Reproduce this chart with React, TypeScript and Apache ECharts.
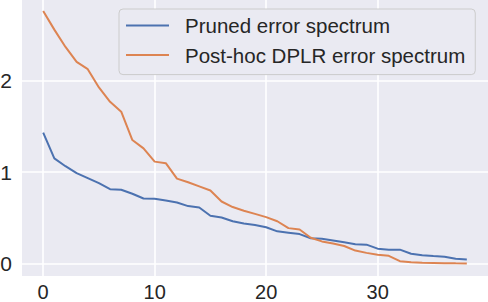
import React, { useEffect, useRef } from "react";
import * as echarts from "echarts";

const indices: number[] = Array.from({ length: 39 }, (_, i) => i);
const prunedSeries: number[] = [
  1.43, 1.15, 1.065, 0.99, 0.935, 0.88, 0.815, 0.808, 0.765, 0.713, 0.71, 0.69, 0.67,
  0.63, 0.615, 0.525, 0.505, 0.465, 0.44, 0.425, 0.4, 0.355, 0.34, 0.325, 0.28, 0.275,
  0.255, 0.235, 0.215, 0.21, 0.166, 0.155, 0.155, 0.11, 0.093, 0.085, 0.078, 0.055, 0.047,
];
const posthocSeries: number[] = [
  2.757, 2.554, 2.365, 2.202, 2.123, 1.924, 1.767, 1.659, 1.35, 1.259, 1.115, 1.098, 0.93,
  0.89, 0.845, 0.8, 0.68, 0.62, 0.58, 0.545, 0.51, 0.465, 0.39, 0.375, 0.285, 0.245, 0.222,
  0.195, 0.145, 0.12, 0.1, 0.088, 0.03, 0.017, 0.012, 0.01, 0.008, 0.006, 0.005,
];
const xTicks: number[] = [0, 10, 20, 30];
const yTicks: number[] = [0, 1, 2];
const seriesNames: string[] = ["Pruned error spectrum", "Post-hoc DPLR error spectrum"];

export default function App() {
  const ref = useRef<HTMLDivElement>(null);
  useEffect(() => {
    if (!ref.current) return;
    const chart = echarts.init(ref.current, undefined, { renderer: "svg" });
    const font = "'Liberation Sans', Arial, sans-serif";
    chart.setOption({
      animation: false,
      backgroundColor: "#ffffff",
      textStyle: { fontFamily: font },
      grid: {
        left: 22,
        right: 0,
        top: 0,
        bottom: 26,
        containLabel: false,
        outerBoundsMode: "none",
        show: true,
        backgroundColor: "#EAEAF2",
        borderWidth: 0,
      },
      legend: {
        orient: "vertical",
        left: 119,
        top: 9,
        padding: [6, 10, 9, 7],
        itemGap: 8.6,
        itemWidth: 43,
        itemHeight: 2,
        backgroundColor: "#EAEAF2",
        borderColor: "#CCCCCC",
        borderWidth: 1,
        borderRadius: 4,
        icon: "rect",
        textStyle: {
          fontFamily: font,
          fontSize: 20.5,
          lineHeight: 20,
          color: "#262626",
          padding: [0, 0, 0, 11],
        },
        data: seriesNames,
      },
      xAxis: {
        type: "value",
        min: -1.9,
        max: 39.9,
        axisLine: { show: false },
        axisTick: { show: false, customValues: xTicks },
        axisLabel: {
          customValues: xTicks,
          fontSize: 20,
          lineHeight: 20,
          color: "#262626",
          margin: 6,
          fontFamily: font,
        },
        splitLine: { show: true, lineStyle: { color: "#ffffff", width: 1.6 } },
      },
      yAxis: {
        type: "value",
        min: -0.132,
        max: 2.877,
        axisLine: { show: false },
        axisTick: { show: false, customValues: yTicks },
        axisLabel: {
          customValues: yTicks,
          fontSize: 21,
          color: "#262626",
          margin: 10,
          fontFamily: font,
        },
        splitLine: { show: true, lineStyle: { color: "#ffffff", width: 1.6 } },
      },
      series: [
        {
          name: seriesNames[0],
          type: "line",
          data: indices.map((i) => [i, prunedSeries[i]]),
          showSymbol: false,
          symbol: "none",
          itemStyle: { color: "#4C72B0" },
          lineStyle: { color: "#4C72B0", width: 2 },
        },
        {
          name: seriesNames[1],
          type: "line",
          data: indices.map((i) => [i, posthocSeries[i]]),
          showSymbol: false,
          symbol: "none",
          itemStyle: { color: "#DD8452" },
          lineStyle: { color: "#DD8452", width: 2 },
        },
      ],
    });
    return () => chart.dispose();
  }, []);
  return (
    <div
      ref={ref}
      style={{ position: "absolute", left: 0, top: 0, width: 488, height: 302 }}
    />
  );
}
